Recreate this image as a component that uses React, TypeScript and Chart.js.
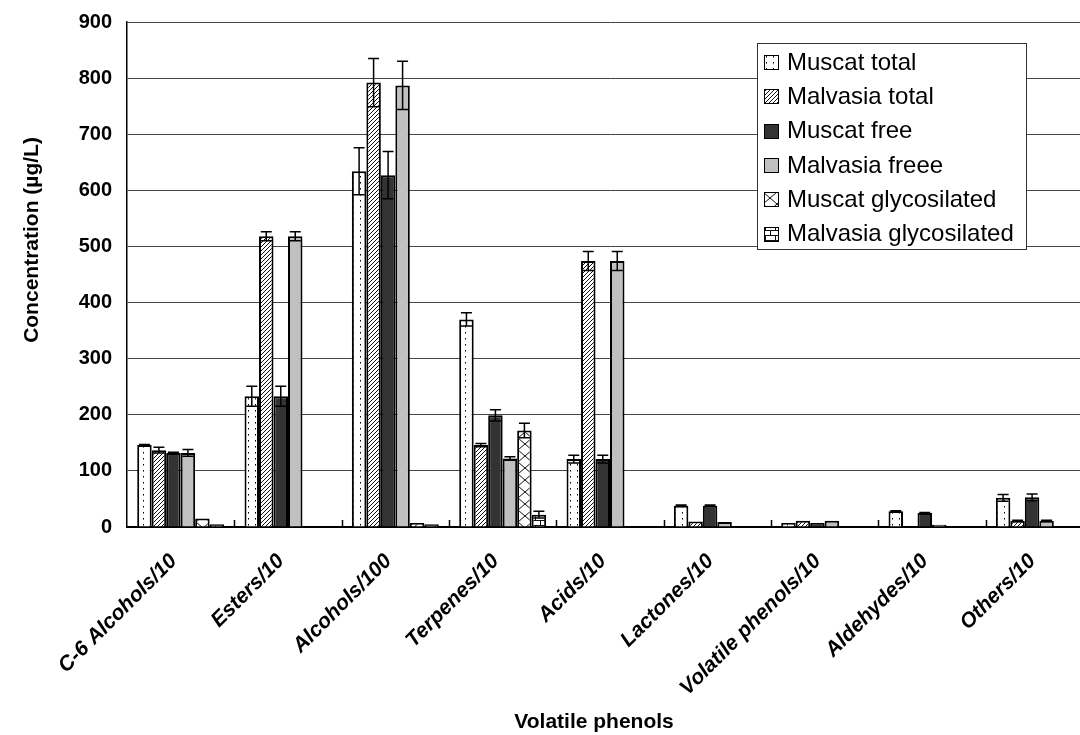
import React, { useEffect, useRef } from "react";
import { Chart, registerables } from "chart.js";

Chart.register(...registerables);

const categories = [
  "C-6 Alcohols/10",
  "Esters/10",
  "Alcohols/100",
  "Terpenes/10",
  "Acids/10",
  "Lactones/10",
  "Volatile phenols/10",
  "Aldehydes/10",
  "Others/10",
];

const seriesNames = [
  "Muscat total",
  "Malvasia total",
  "Muscat free",
  "Malvasia freee",
  "Muscat glycosilated",
  "Malvasia glycosilated",
];

const muscatTotal = [146, 233, 634, 370, 121, 38, 7, 28, 52];
const malvasiaTotal = [137, 518, 792, 146, 474, 10, 11, null, 11];
const muscatFree = [132, 233, 627, 199, 121, 38, 7, 25, 53];
const malvasiaFree = [132, 518, 787, 122, 474, 9, 11, 4, 11];
const muscatGlyc = [15, null, 7, 172, null, null, null, null, null];
const malvasiaGlyc = [5, null, 5, 22, null, null, null, null, null];

const muscatTotalErr = [1, 18, 42, 12, 7, 1, 0, 1, 6];
const malvasiaTotalErr = [5, 8, 43, 3, 17, 0, 0, 0, 1];
const muscatFreeErr = [1, 18, 42, 10, 7, 1, 0, 1, 6];
const malvasiaFreeErr = [6, 8, 43, 3, 17, 0, 0, 0, 1];
const muscatGlycErr = [0, 0, 0, 13, 0, 0, 0, 0, 0];
const malvasiaGlycErr = [0, 0, 0, 6, 0, 0, 0, 0, 0];

const yMin = 0;
const yMax = 900;
const yStep = 100;

const xTitle = "Volatile phenols";
const yTitle = "Concentration (µg/L)";

const seriesValues = [muscatTotal, malvasiaTotal, muscatFree, malvasiaFree, muscatGlyc, malvasiaGlyc];
const seriesErrors = [muscatTotalErr, malvasiaTotalErr, muscatFreeErr, malvasiaFreeErr, muscatGlycErr, malvasiaGlycErr];

const FONT = "'Liberation Sans', Arial, Helvetica, sans-serif";

function makeFill(kind: string): CanvasPattern | string {
  if (kind === "dark") return "#333333";
  if (kind === "gray") return "#c0c0c0";
  const c = document.createElement("canvas");
  let w = 8;
  let h = 8;
  if (kind === "dots") { w = 7; h = 6; }
  if (kind === "hatch") { w = 4; h = 4; }
  if (kind === "zigzag") { w = 14; h = 12; }
  if (kind === "brick") { w = 10; h = 10; }
  c.width = w;
  c.height = h;
  const g = c.getContext("2d")!;
  g.fillStyle = "#ffffff";
  g.fillRect(0, 0, w, h);
  g.strokeStyle = "#111";
  g.fillStyle = "#000";
  g.lineWidth = 1;
  if (kind === "dots") {
    g.fillRect(3, 2, 1, 1);
    g.fillStyle = "#777";
    g.fillRect(3, 3, 1, 1);
  } else if (kind === "hatch") {
    g.beginPath();
    g.moveTo(-1, 5); g.lineTo(5, -1);
    g.moveTo(-1, 1); g.lineTo(1, -1);
    g.moveTo(3, 5); g.lineTo(5, 3);
    g.stroke();
  } else if (kind === "zigzag") {
    g.beginPath();
    g.moveTo(0, 6); g.lineTo(7, 0); g.lineTo(14, 6);
    g.moveTo(0, 6); g.lineTo(7, 12); g.lineTo(14, 6);
    g.stroke();
  } else if (kind === "brick") {
    g.beginPath();
    g.moveTo(0, 0.5); g.lineTo(w, 0.5);
    g.moveTo(0, 5.5); g.lineTo(w, 5.5);
    g.moveTo(0.5, 0); g.lineTo(0.5, 5.5);
    g.moveTo(5.5, 5.5); g.lineTo(5.5, 10);
    g.stroke();
  }
  return g.createPattern(c, "repeat") || "#fff";
}

const fillKinds = ["dots", "hatch", "dark", "gray", "zigzag", "brick"];

export default function App() {
  const ref = useRef<HTMLCanvasElement | null>(null);

  useEffect(() => {
    if (!ref.current) return;
    const fills = fillKinds.map((k) => makeFill(k));

    const errorBars = {
      id: "errorBars",
      afterDatasetsDraw(chart: any) {
        const ctx = chart.ctx;
        const ys = chart.scales.y;
        ctx.save();
        ctx.strokeStyle = "#000";
        ctx.lineWidth = 1.5;
        seriesErrors.forEach((errs, i) => {
          const meta = chart.getDatasetMeta(i);
          meta.data.forEach((bar: any, j: number) => {
            const v = seriesValues[i][j];
            const e = errs[j];
            if (v == null || !e) return;
            const x = bar.x;
            const top = ys.getPixelForValue(v + e);
            const bot = ys.getPixelForValue(v - e);
            ctx.beginPath();
            ctx.moveTo(x, top); ctx.lineTo(x, bot);
            ctx.moveTo(x - 5.5, top); ctx.lineTo(x + 5.5, top);
            ctx.moveTo(x - 5.5, bot); ctx.lineTo(x + 5.5, bot);
            ctx.stroke();
          });
        });
        ctx.restore();
      },
    };

    const extras = {
      id: "extras",
      afterDraw(chart: any) {
        const ctx = chart.ctx;
        const xs = chart.scales.x;
        const area = chart.chartArea;
        ctx.save();
        // category separator ticks (inside)
        const n = categories.length;
        const cw = (xs.right - xs.left) / n;
        ctx.strokeStyle = "#000";
        ctx.lineWidth = 1.5;
        ctx.beginPath();
        for (let k = 1; k < n; k++) {
          const px = Math.round(xs.left + k * cw) + 0.5;
          ctx.moveTo(px, area.bottom);
          ctx.lineTo(px, area.bottom - 7);
        }
        ctx.stroke();

        // axis titles
        ctx.fillStyle = "#000";
        ctx.font = `bold 21px ${FONT}`;
        ctx.textAlign = "center";
        ctx.textBaseline = "alphabetic";
        ctx.fillText(xTitle, 594, 728);
        ctx.save();
        ctx.translate(38, 240);
        ctx.rotate(-Math.PI / 2);
        ctx.fillText(yTitle, 0, 0);
        ctx.restore();

        // legend
        const lx = 757, ly = 43, lw = 269, lh = 206;
        ctx.fillStyle = "#fff";
        ctx.fillRect(lx, ly, lw, lh);
        ctx.strokeStyle = "#333";
        ctx.lineWidth = 1;
        ctx.strokeRect(lx + 0.5, ly + 0.5, lw, lh);
        ctx.font = `24px ${FONT}`;
        ctx.textAlign = "left";
        ctx.textBaseline = "middle";
        seriesNames.forEach((name, i) => {
          const cy = 62 + i * 34.3;
          ctx.fillStyle = fills[i] as any;
          ctx.fillRect(764, Math.round(cy - 7), 15, 15);
          ctx.strokeStyle = "#000";
          ctx.lineWidth = 1;
          ctx.strokeRect(764.5, Math.round(cy - 7) + 0.5, 14, 14);
          ctx.fillStyle = "#000";
          ctx.fillText(name, 787, cy + 1);
        });
        ctx.restore();
      },
    };

    const chart = new Chart(ref.current, {
      type: "bar",
      data: {
        labels: categories,
        datasets: seriesNames.map((name, i) => ({
          label: name,
          data: seriesValues[i] as any,
          backgroundColor: fills[i] as any,
          borderColor: "#000",
          borderWidth: 2,
          barPercentage: 1,
          categoryPercentage: 0.81,
        })),
      },
      options: {
        responsive: false,
        animation: false,
        devicePixelRatio: 1,
        layout: { padding: { left: 0, top: 22, right: 17, bottom: 0 } },
        plugins: {
          legend: { display: false },
          tooltip: { enabled: false },
          title: { display: false },
        },
        scales: {
          x: {
            grid: { drawOnChartArea: false, drawTicks: false },
            border: { color: "#000", width: 2 },
            ticks: {
              autoSkip: false,
              maxRotation: 45,
              minRotation: 45,
              padding: 22,
              labelOffset: -7,
              color: "#000",
              font: { family: FONT, size: 21, weight: "bold", style: "italic" },
            },
            afterFit: (s: any) => { s.height = 208; },
          },
          y: {
            min: yMin,
            max: yMax,
            ticks: {
              stepSize: yStep,
              padding: 15,
              color: "#000",
              font: { family: FONT, size: 20, weight: "bold" },
            },
            grid: { color: "#444", lineWidth: 1, drawTicks: false },
            border: { color: "#000", width: 1.5 },
            afterFit: (s: any) => { s.width = 127; s.paddingTop = 0; s.paddingBottom = 0; },
          },
        },
      } as any,
      plugins: [errorBars, extras],
    });
    return () => chart.destroy();
  }, []);

  return (
    <div style={{ position: "absolute", left: 0, top: 0, width: 1080, height: 735, overflow: "hidden", background: "#fff" }}>
      <canvas ref={ref} width={1110} height={735} style={{ display: "block" }} />
    </div>
  );
}
